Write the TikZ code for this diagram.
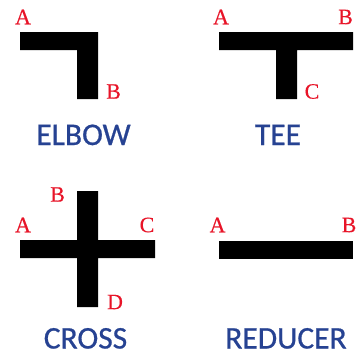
\documentclass[tikz,border=0pt]{standalone}
\usepackage{fontspec}
\setmainfont[FakeBold=0.25]{Liberation Serif}
\newfontfamily\titlefont[FakeBold=0.7]{Carlito}
\definecolor{lab}{RGB}{232,20,40}
\definecolor{ttl}{RGB}{38,66,146}
\tikzset{
  pipe/.style={fill=black,draw=none},
  lab/.style={text=lab,font=\fontsize{22}{22}\selectfont,inner sep=0pt,anchor=center},
  ttl/.style={text=ttl,font=\titlefont\fontsize{31.5}{32}\selectfont,inner sep=0pt,anchor=base}
}
\begin{document}
\begin{tikzpicture}[x=1pt,y=-1pt]
\useasboundingbox (0,0) rectangle (358,351);
\fill[white] (0,0) rectangle (358,351);
% ELBOW
\fill[pipe] (20,32) -- (98,32) -- (98,99) -- (77,99) -- (77,50) -- (20,50) -- cycle;
\node[lab] (e1) at (23,17) {A};
\node[lab] (e2) at (113.5,91.5) {B};
\node[ttl] (e3) at (83.5,145) {ELBOW};
% TEE
\fill[pipe] (219,32) -- (353,32) -- (353,50) -- (297,50) -- (297,99) -- (276,99) -- (276,50) -- (219,50) -- cycle;
\node[lab] (t1) at (221,17) {A};
\node[lab] (t2) at (345.5,17) {B};
\node[lab] (t3) at (312,91.5) {C};
\node[ttl] (t4) at (278,145) {TEE};
% CROSS
\fill[pipe] (20,240) -- (77,240) -- (77,191) -- (98,191) -- (98,240) -- (155,240) -- (155,258) -- (98,258) -- (98,307) -- (77,307) -- (77,258) -- (20,258) -- cycle;
\node[lab] (c1) at (23,225) {A};
\node[lab] (c2) at (57.5,194.5) {B};
\node[lab] (c3) at (147,225) {C};
\node[lab] (c4) at (115,302) {D};
\node[ttl] (c5) at (85.5,348.5) {CROSS};
% REDUCER
\fill[pipe] (219,241) rectangle (353,259);
\node[lab] (r1) at (217.5,225) {A};
\node[lab] (r2) at (349,225) {B};
\node[ttl] (r3) at (286,348.5) {REDUCER};
\end{tikzpicture}
\end{document}
